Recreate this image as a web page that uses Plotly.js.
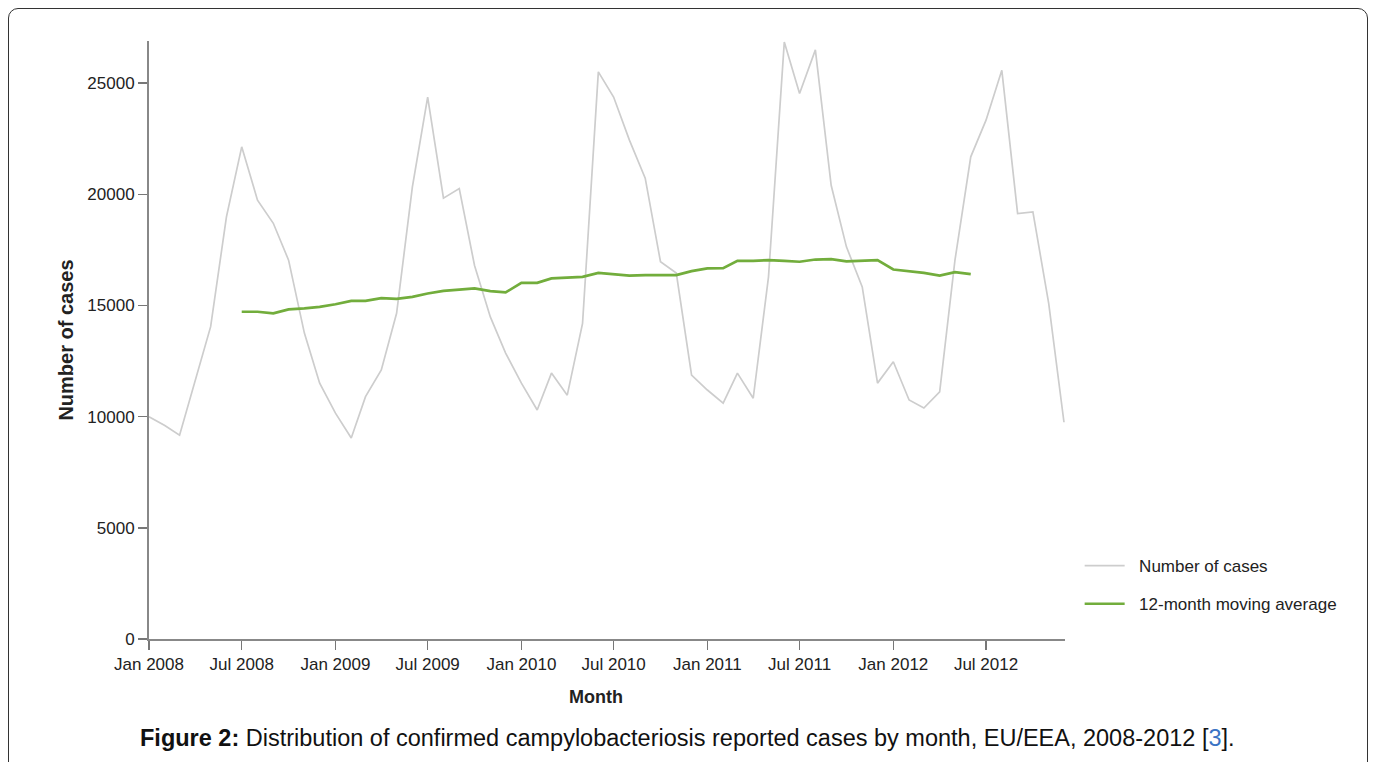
<!DOCTYPE html>
<html>
<head>
<meta charset="utf-8">
<script src="https://cdn.plot.ly/plotly-3.0.1.min.js"></script>
<style>
  html, body { margin: 0; padding: 0; background: #fff; }
  #wrap { position: relative; width: 1375px; height: 762px; overflow: hidden; }
  #chart { position: absolute; left: 0; top: 0; width: 1375px; height: 762px; }
  #frame { position: absolute; left: 8px; top: 8px; width: 1358px; height: 770px;
           border: 1px solid #333; border-radius: 10px; pointer-events: none; }
</style>
</head>
<body>
<div id="wrap">
  <div id="chart"></div>
  <div id="frame"></div>
</div>
<script>
const months = [
  "2008-01","2008-02","2008-03","2008-04","2008-05","2008-06","2008-07","2008-08","2008-09","2008-10","2008-11","2008-12",
  "2009-01","2009-02","2009-03","2009-04","2009-05","2009-06","2009-07","2009-08","2009-09","2009-10","2009-11","2009-12",
  "2010-01","2010-02","2010-03","2010-04","2010-05","2010-06","2010-07","2010-08","2010-09","2010-10","2010-11","2010-12",
  "2011-01","2011-02","2011-03","2011-04","2011-05","2011-06","2011-07","2011-08","2011-09","2011-10","2011-11","2011-12",
  "2012-01","2012-02","2012-03","2012-04","2012-05","2012-06","2012-07","2012-08","2012-09","2012-10","2012-11","2012-12"
];
const cases = [
  10000, 9600, 9170, 11650, 14050, 18990, 22140, 19740, 18700, 17040, 13760, 11510,
  10160, 9040, 10900, 12100, 14650, 20340, 24380, 19830, 20260, 16800, 14490, 12860,
  11510, 10300, 11960, 10970, 14200, 25510, 24380, 22440, 20730, 16970, 16460, 11870,
  11200, 10610, 11960, 10830, 16290, 26850, 24540, 26500, 20410, 17640, 15840, 11510,
  12470, 10750, 10390, 11120, 17040, 21690, 23340, 25580, 19140, 19210, 15100, 9750
];
const avgMonths = months.slice(6, 54);
const movingAvg = [
  14720, 14720, 14650, 14830, 14870, 14940,
  15060, 15210, 15210, 15330, 15300, 15390, 15540, 15660, 15720, 15770, 15650, 15590,
  16020, 16020, 16220, 16260, 16290, 16470, 16410, 16350, 16370, 16380, 16370, 16550,
  16670, 16680, 17010, 17010, 17040, 17010, 16970, 17070, 17090, 16990, 17010, 17040,
  16620, 16550, 16470, 16350, 16500, 16410
];
const tickVals = ["2008-01-01","2008-07-01","2009-01-01","2009-07-01","2010-01-01","2010-07-01","2011-01-01","2011-07-01","2012-01-01","2012-07-01"];
const tickText = ["Jan 2008","Jul 2008","Jan 2009","Jul 2009","Jan 2010","Jul 2010","Jan 2011","Jul 2011","Jan 2012","Jul 2012"];
const yTicks = [0, 5000, 10000, 15000, 20000, 25000];
const yTickText = ["0", "5000", "10000", "15000", "20000", "25000"];

const FONT = "Liberation Sans, Arial, sans-serif";

const traces = [
  {
    x: months, y: cases, type: "scatter", mode: "lines",
    name: "&nbsp;&nbsp;Number of cases", legendgroup: "a",
    line: { color: "#cdcdcd", width: 1.7 }
  },
  {
    x: avgMonths, y: movingAvg, type: "scatter", mode: "lines",
    name: "&nbsp;&nbsp;12-month moving average", legendgroup: "b",
    line: { color: "#72ad3c", width: 2.7 }
  }
];

const layout = {
  width: 1375, height: 762,
  margin: { l: 149, r: 310, t: 41, b: 123 },
  paper_bgcolor: "rgba(0,0,0,0)", plot_bgcolor: "rgba(0,0,0,0)",
  font: { family: FONT, color: "#222", size: 17 },
  showlegend: true,
  legend: {
    x: 1.016, xanchor: "left", y: 0.152, yanchor: "top",
    font: { family: FONT, size: 17, color: "#222" },
    tracegroupgap: 13, itemwidth: 40, bgcolor: "rgba(0,0,0,0)"
  },
  xaxis: {
    type: "date",
    range: ["2008-01-01", "2012-12-03"],
    tickmode: "array", tickvals: tickVals, ticktext: tickText,
    showgrid: false, zeroline: false,
    showline: true, linecolor: "#888", linewidth: 2,
    ticks: "outside", ticklen: 9, tickwidth: 1.5, tickcolor: "#777",
    tickfont: { family: FONT, size: 17, color: "#222" }
  },
  yaxis: {
    range: [0, 26900],
    tickmode: "array", tickvals: yTicks, ticktext: yTickText,
    showgrid: false, zeroline: false,
    showline: true, linecolor: "#888", linewidth: 2,
    ticks: "outside", ticklen: 9, tickwidth: 1.5, tickcolor: "#777",
    tickfont: { family: FONT, size: 17, color: "#222" },
    title: { text: "<b>Number of cases</b>", font: { family: FONT, size: 20, color: "#222" }, standoff: 8 }
  },
  annotations: [
    {
      xref: "paper", yref: "paper", x: 0.488, y: -0.097,
      xanchor: "center", yanchor: "middle", showarrow: false,
      text: "<b>Month</b>",
      font: { family: FONT, size: 18, color: "#222" }
    },
    {
      xref: "paper", yref: "paper", x: 0.588, y: -0.166,
      xanchor: "center", yanchor: "middle", showarrow: false,
      text: "<b>Figure 2:</b> Distribution of confirmed campylobacteriosis reported cases by month, EU/EEA, 2008-2012 [<span style='color:#3a73c4'>3</span>].",
      font: { family: FONT, size: 23.5, color: "#111" }
    }
  ]
};

Plotly.newPlot("chart", traces, layout, { displayModeBar: false, staticPlot: true });
</script>
</body>
</html>
